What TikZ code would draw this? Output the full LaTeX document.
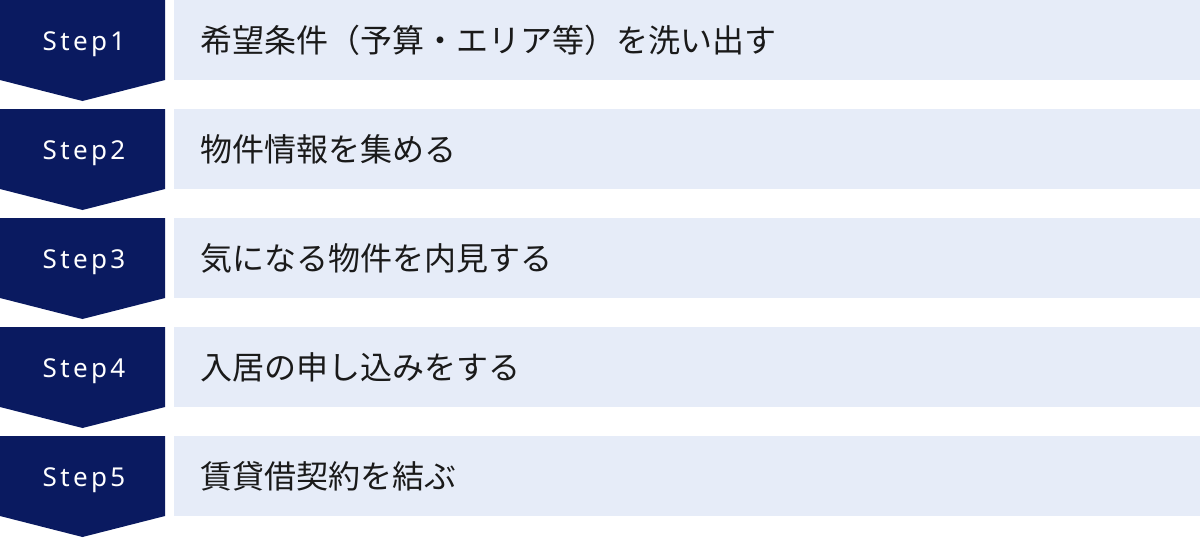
\documentclass[tikz,border=0pt]{standalone}
\usepackage{fontspec}
\newfontfamily\jpfont{Noto Sans CJK JP}
\newfontfamily\stepfont[LetterSpace=13]{Noto Sans}
\usetikzlibrary{positioning}
\definecolor{stepnavy}{HTML}{0A1A60}
\definecolor{steplight}{HTML}{E6ECF8}
\definecolor{steptext}{HTML}{1A1A1A}
\tikzset{
  steplabel/.style={text=white, inner sep=0pt, anchor=base, font=\stepfont\fontsize{26}{30}\selectfont},
  stepitem/.style={text=steptext, inner sep=0pt, anchor=west, font=\jpfont\fontsize{32}{38}\selectfont}
}

\begin{document}
\begin{tikzpicture}[x=1pt,y=1pt]
    \useasboundingbox (0,0) rectangle (1200,-538);
    \foreach \i/\txt in {1/{希望条件（予算・エリア等）を洗い出す},
                         2/{物件情報を集める},
                         3/{気になる物件を内見する},
                         4/{入居の申し込みをする},
                         5/{賃貸借契約を結ぶ}}{
        \pgfmathsetmacro\top{-(\i-1)*109}
        \coordinate (T\i) at (0,\top);
        \fill[stepnavy] (T\i) -- ++(165,0) -- ++(0,-80) -- ++(-82.5,-21) -- ++(-82.5,21) -- cycle;
        \fill[steplight] ([xshift=174pt]T\i) rectangle ++(1026,-80);
        \node[steplabel] (S\i) at ([shift={(84,-50)}]T\i) {Step\i};
        \node[stepitem] (L\i) at ([shift={(200,-40)}]T\i) {\txt};
    }
\end{tikzpicture}
\end{document}
